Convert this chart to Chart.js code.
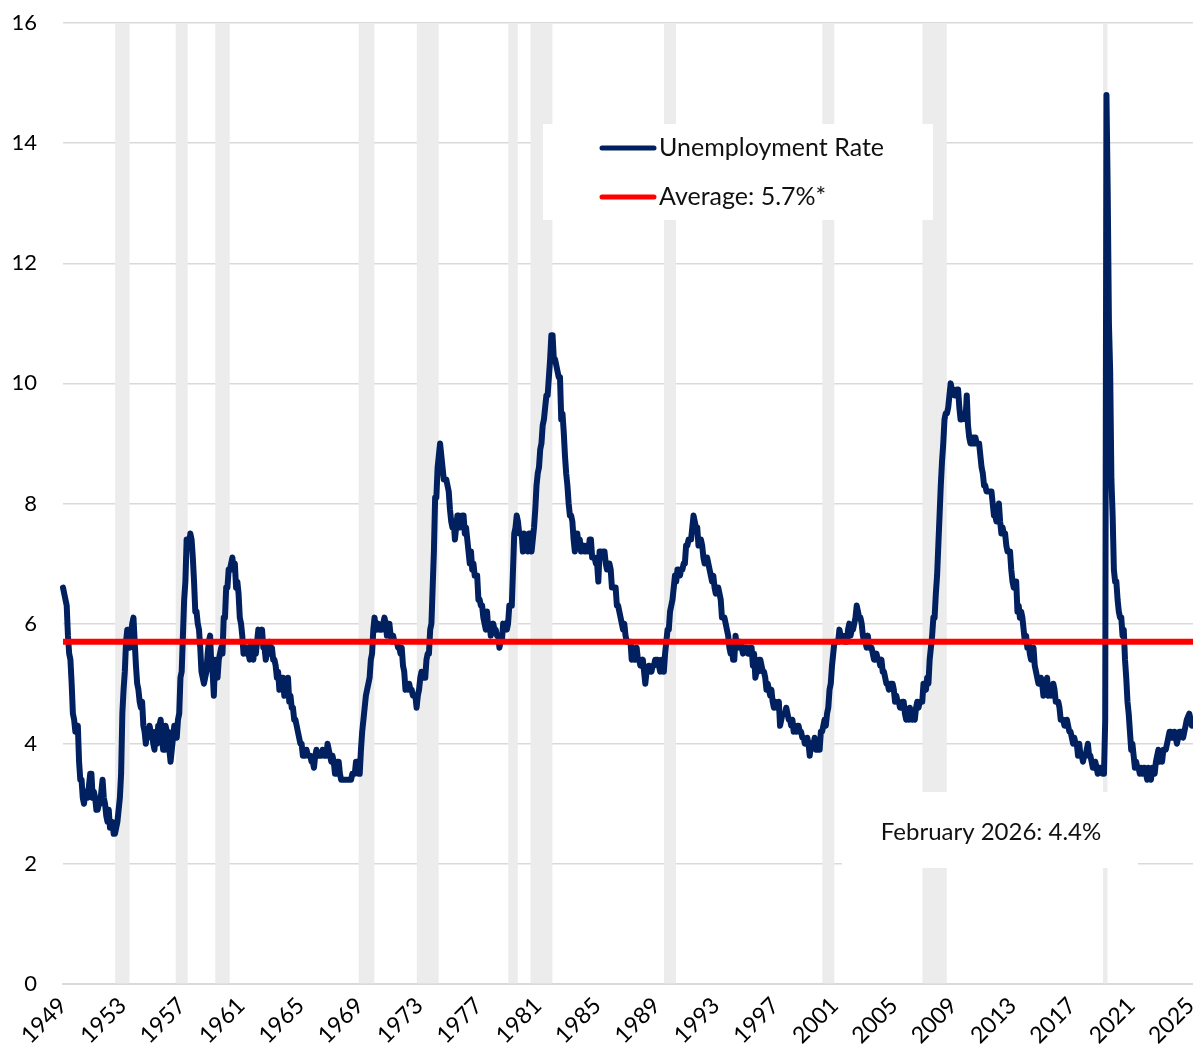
<!DOCTYPE html>
<html>
<head>
<meta charset="utf-8">
<script src="https://cdn.jsdelivr.net/npm/chart.js@4/dist/chart.umd.min.js"></script>
<style>
  html,body{margin:0;padding:0;background:#fff}
</style>
</head>
<body>
<canvas id="chart" width="1193" height="1057"></canvas>
<script>
// DATA - monthly unemployment rate, Dec 1949 .. Feb 2026
const startYear=1949, startMonth=11; // first point = Dec 1949
const rate=[
  6.6,
  6.5,6.4,6.3,5.8,5.5,5.4,5.0,4.5,4.4,4.2,4.2,4.3, // 1950
  3.7,3.4,3.4,3.1,3.0,3.2,3.1,3.1,3.3,3.5,3.5,3.1,
  3.2,3.1,2.9,2.9,3.0,3.0,3.2,3.4,3.1,3.0,2.8,2.7,
  2.9,2.6,2.6,2.7,2.5,2.5,2.6,2.7,2.9,3.1,3.5,4.5,
  4.9,5.2,5.7,5.9,5.9,5.6,5.8,6.0,6.1,5.7,5.3,5.0,
  4.9,4.7,4.6,4.7,4.3,4.2,4.0,4.2,4.1,4.3,4.2,4.2, // 1955
  4.0,3.9,4.2,4.0,4.3,4.3,4.4,4.1,3.9,3.9,4.3,4.2,
  4.2,3.9,3.7,3.9,4.1,4.3,4.2,4.1,4.4,4.5,5.1,5.2,
  5.8,6.4,6.7,7.4,7.4,7.3,7.5,7.4,7.1,6.7,6.2,6.2,
  6.0,5.9,5.6,5.2,5.1,5.0,5.1,5.2,5.5,5.7,5.8,5.3,
  5.2,4.8,5.4,5.2,5.1,5.4,5.5,5.6,5.5,6.1,6.1,6.6, // 1960
  6.6,6.9,6.9,7.0,7.1,6.9,7.0,6.6,6.7,6.5,6.1,6.0,
  5.8,5.5,5.6,5.6,5.5,5.5,5.4,5.7,5.6,5.4,5.7,5.5,
  5.7,5.9,5.7,5.7,5.9,5.6,5.6,5.4,5.5,5.5,5.7,5.5,
  5.6,5.4,5.4,5.3,5.1,5.2,4.9,5.0,5.1,5.1,4.8,5.0,
  4.9,5.1,4.7,4.8,4.6,4.6,4.4,4.4,4.3,4.2,4.1,4.0, // 1965
  4.0,3.8,3.8,3.8,3.9,3.8,3.8,3.8,3.7,3.7,3.6,3.8,
  3.9,3.8,3.8,3.8,3.8,3.9,3.8,3.8,3.8,4.0,3.9,3.8,
  3.7,3.8,3.7,3.5,3.5,3.7,3.7,3.5,3.4,3.4,3.4,3.4,
  3.4,3.4,3.4,3.4,3.4,3.5,3.5,3.5,3.7,3.7,3.5,3.5,
  3.9,4.2,4.4,4.6,4.8,4.9,5.0,5.1,5.4,5.5,5.9,6.1, // 1970
  5.9,5.9,6.0,5.9,5.9,5.9,6.0,6.1,6.0,5.8,6.0,6.0,
  5.8,5.7,5.8,5.7,5.7,5.7,5.6,5.6,5.5,5.6,5.3,5.2,
  4.9,5.0,4.9,5.0,4.9,4.9,4.8,4.8,4.8,4.6,4.8,4.9,
  5.1,5.2,5.1,5.1,5.1,5.4,5.5,5.5,5.9,6.0,6.6,7.2,
  8.1,8.1,8.6,8.8,9.0,8.8,8.6,8.4,8.4,8.4,8.3,8.2, // 1975
  7.9,7.7,7.6,7.7,7.4,7.6,7.8,7.8,7.6,7.7,7.8,7.8,
  7.5,7.6,7.4,7.2,7.0,7.2,6.9,7.0,6.8,6.8,6.8,6.4,
  6.4,6.3,6.3,6.1,6.0,5.9,6.2,5.9,6.0,5.8,5.9,6.0,
  5.9,5.9,5.8,5.8,5.6,5.7,5.7,6.0,5.9,6.0,5.9,6.0,
  6.3,6.3,6.3,6.9,7.5,7.6,7.8,7.7,7.5,7.5,7.5,7.2, // 1980
  7.5,7.4,7.4,7.2,7.5,7.5,7.2,7.4,7.6,7.9,8.3,8.5,
  8.6,8.9,9.0,9.3,9.4,9.6,9.8,9.8,10.1,10.4,10.8,10.8,
  10.4,10.4,10.3,10.2,10.1,10.1,9.4,9.5,9.2,8.8,8.5,8.3,
  8.0,7.8,7.8,7.7,7.4,7.2,7.5,7.5,7.3,7.4,7.2,7.3,
  7.3,7.2,7.2,7.3,7.2,7.4,7.4,7.1,7.1,7.1,7.0,7.0, // 1985
  6.7,7.2,7.2,7.1,7.2,7.2,7.0,6.9,7.0,7.0,6.9,6.6,
  6.6,6.6,6.6,6.3,6.3,6.2,6.1,6.0,5.9,6.0,5.8,5.7,
  5.7,5.7,5.7,5.4,5.6,5.4,5.4,5.6,5.4,5.4,5.3,5.3,
  5.4,5.2,5.0,5.2,5.2,5.3,5.2,5.2,5.3,5.3,5.4,5.4,
  5.4,5.3,5.2,5.4,5.4,5.2,5.5,5.7,5.9,5.9,6.2,6.3, // 1990
  6.4,6.6,6.8,6.7,6.9,6.9,6.8,6.9,6.9,7.0,7.0,7.3,
  7.3,7.4,7.4,7.4,7.6,7.8,7.7,7.6,7.6,7.3,7.4,7.4,
  7.3,7.1,7.0,7.1,7.1,7.0,6.9,6.8,6.7,6.8,6.6,6.5,
  6.6,6.6,6.5,6.4,6.1,6.1,6.1,6.0,5.9,5.8,5.6,5.5,
  5.6,5.4,5.4,5.8,5.6,5.6,5.7,5.7,5.6,5.5,5.6,5.6, // 1995
  5.6,5.5,5.5,5.6,5.6,5.3,5.5,5.1,5.2,5.2,5.4,5.4,
  5.3,5.2,5.2,5.1,4.9,5.0,4.9,4.8,4.9,4.7,4.6,4.7,
  4.6,4.6,4.7,4.3,4.4,4.5,4.5,4.5,4.6,4.5,4.4,4.4,
  4.3,4.4,4.2,4.3,4.2,4.3,4.3,4.2,4.2,4.1,4.1,4.0,
  4.0,4.1,4.0,3.8,4.0,4.0,4.0,4.1,3.9,3.9,3.9,3.9, // 2000
  4.2,4.2,4.3,4.4,4.3,4.5,4.6,4.9,5.0,5.3,5.5,5.7,
  5.7,5.7,5.7,5.9,5.8,5.8,5.8,5.7,5.7,5.7,5.9,6.0,
  5.8,5.9,5.9,6.0,6.1,6.3,6.2,6.1,6.1,6.0,5.8,5.7,
  5.7,5.6,5.8,5.6,5.6,5.6,5.5,5.4,5.4,5.5,5.4,5.4,
  5.3,5.4,5.2,5.2,5.1,5.0,5.0,4.9,5.0,5.0,5.0,4.9, // 2005
  4.7,4.8,4.7,4.7,4.6,4.6,4.7,4.7,4.5,4.4,4.5,4.4,
  4.6,4.5,4.4,4.5,4.4,4.6,4.7,4.6,4.7,4.7,4.7,5.0,
  5.0,4.9,5.1,5.0,5.4,5.6,5.8,6.1,6.1,6.5,6.8,7.3,
  7.8,8.3,8.7,9.0,9.4,9.5,9.5,9.6,9.8,10.0,9.9,9.9,
  9.8,9.8,9.9,9.9,9.6,9.4,9.4,9.5,9.5,9.4,9.8,9.3, // 2010
  9.1,9.0,9.0,9.1,9.0,9.1,9.0,9.0,9.0,8.8,8.6,8.5,
  8.3,8.3,8.2,8.2,8.2,8.2,8.2,8.0,7.8,7.8,7.7,7.9,
  8.0,7.7,7.5,7.6,7.5,7.5,7.3,7.2,7.2,7.2,6.9,6.7,
  6.6,6.7,6.7,6.2,6.3,6.1,6.2,6.1,5.9,5.7,5.8,5.6,
  5.7,5.5,5.4,5.4,5.6,5.3,5.2,5.1,5.0,5.0,5.1,5.0, // 2015
  4.8,4.9,5.0,5.1,4.8,4.9,4.8,4.9,5.0,4.9,4.7,4.7,
  4.7,4.6,4.4,4.4,4.4,4.3,4.3,4.4,4.3,4.2,4.2,4.1,
  4.0,4.1,4.0,4.0,3.8,4.0,3.8,3.8,3.7,3.8,3.8,3.9,
  4.0,3.8,3.8,3.7,3.6,3.6,3.7,3.6,3.5,3.6,3.6,3.6,
  3.5,3.5,4.4,14.8,13.2,11.0,10.2,8.4,7.8,6.9,6.7,6.7, // 2020
  6.4,6.2,6.1,6.1,5.8,5.9,5.4,5.1,4.7,4.5,4.2,3.9,
  4.0,3.8,3.6,3.7,3.6,3.6,3.5,3.6,3.5,3.6,3.6,3.5,
  3.4,3.6,3.5,3.4,3.6,3.6,3.5,3.7,3.8,3.9,3.7,3.8,
  3.7,3.9,3.9,3.9,4.0,4.1,4.2,4.2,4.1,4.1,4.2,4.1,
  4.0,4.1,4.2,4.2,4.2,4.1,4.2,4.3,4.4,null,4.5,4.4, // 2025 (Oct not published)
  4.3,4.4 // 2026
];
const avgRate=5.7;
const lastLabel="February 2026";
const tickLabels=["1949","1953","1957","1961","1965","1969","1973","1977","1981","1985",
  "1989","1993","1997","2001","2005","2009","2013","2017","2021","2025"];
const tickEvery=48;
const recessions=[
  ["1953-07","1954-05"],["1957-08","1958-04"],["1960-04","1961-02"],["1969-12","1970-11"],
  ["1973-11","1975-03"],["1980-01","1980-07"],["1981-07","1982-11"],["1990-07","1991-03"],
  ["2001-03","2001-11"],["2007-12","2009-06"],["2020-02","2020-04"]
];

// categories "YYYY-MM"
const months=rate.map((_,i)=>{
  const m=startMonth+i;
  return (startYear+Math.floor(m/12))+"-"+String(m%12+1).padStart(2,"0");
});
const yMax=16;
const recessionBars=months.map(m=>recessions.some(([a,b])=>m>=a&&m<=b)?yMax:null);

const FONT="Lato, 'Open Sans', sans-serif";
const GRID="#d9d9d9";

// legend + note boxes
const boxes={
  id:"boxes",
  afterDraw(chart){
    const c=chart.ctx;
    c.save();
    c.fillStyle="#fff";
    c.fillRect(543,124,390,96);
    c.font="25px "+FONT;
    c.textBaseline="middle";
    const items=chart.data.datasets.filter(d=>d.type==="line");
    items.forEach((d,k)=>{
      const y=148+k*49;
      c.strokeStyle=d.borderColor; c.lineWidth=5; c.lineCap="round";
      c.beginPath(); c.moveTo(602,y); c.lineTo(654,y); c.stroke();
      c.fillStyle="#111"; c.textAlign="left";
      c.fillText(d.label,659,y);
    });
    c.fillStyle="#fff";
    c.fillRect(842,792,296,76);
    c.font="24px "+FONT;
    c.fillStyle="#111"; c.textAlign="center";
    c.fillText(lastLabel+": "+rate[rate.length-1]+"%",991,832);
    c.restore();
  }
};

new Chart(document.getElementById("chart"),{
  data:{
    labels:months,
    datasets:[
      {type:"bar",label:"Recession",data:recessionBars,backgroundColor:"#ececec",
       barPercentage:1.7,categoryPercentage:1,order:3},
      {type:"line",label:"Unemployment Rate",data:rate,borderColor:"#002060",borderWidth:6,
       pointRadius:0,spanGaps:true,borderJoinStyle:"round",borderCapStyle:"round",order:2},
      {type:"line",label:"Average: "+avgRate+"%*",data:months.map(()=>avgRate),borderColor:"#ff0000",
       borderWidth:6,pointRadius:0,order:1}
    ]
  },
  options:{
    responsive:false,animation:false,
    layout:{padding:{top:23,right:0,left:0,bottom:0}},
    plugins:{legend:{display:false},tooltip:{enabled:false}},
    scales:{
      x:{
        offset:false,
        grid:{drawOnChartArea:false,tickLength:8,lineWidth:1.5,
          color:ctx=>ctx.index%tickEvery===0?GRID:"rgba(0,0,0,0)"},
        border:{color:GRID,width:2},
        ticks:{autoSkip:false,minRotation:45,maxRotation:45,padding:0,color:"#000",
          font:{family:FONT,size:23},
          callback:(v,i)=>i%tickEvery===0?tickLabels[i/tickEvery]:null},
        afterFit(s){s.height=73;s.paddingRight=0;}
      },
      y:{
        min:0,max:yMax,
        ticks:{stepSize:2,padding:26,color:"#000",font:{family:FONT,size:22}},
        grid:{color:GRID,lineWidth:1.5,drawTicks:false},
        border:{display:false},
        afterFit(s){s.width=63;s.paddingTop=0;s.paddingBottom=0;}
      }
    }
  },
  plugins:[boxes]
});
</script>
</body>
</html>
